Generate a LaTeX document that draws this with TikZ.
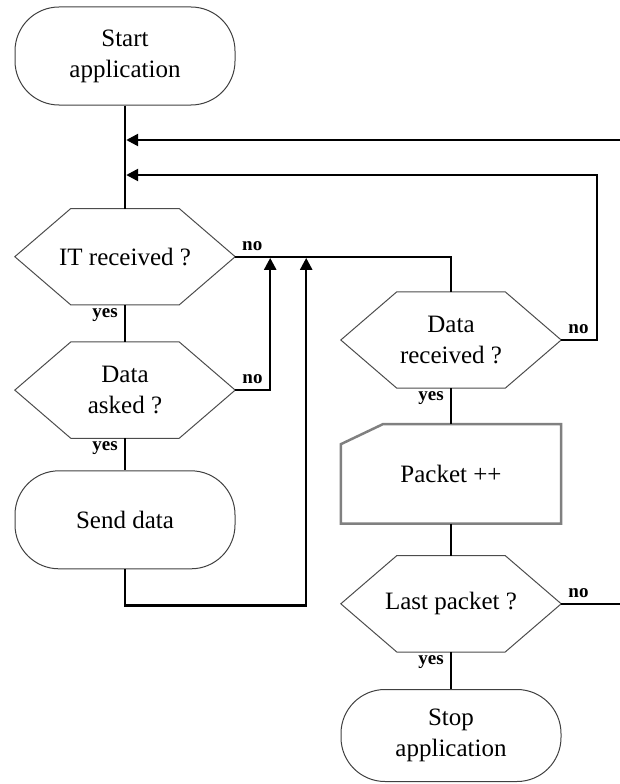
\documentclass[tikz,border=0pt]{standalone}
\usepackage{fontspec}
\setmainfont{Liberation Serif}
\usetikzlibrary{positioning,arrows.meta}

\begin{document}
\begin{tikzpicture}[x=1pt, y=-1pt, node distance=37pt,
        every node/.style={font=\fontsize{25}{31}\selectfont},
        term/.style={rectangle, draw=black!75, line width=1pt, rounded corners=44pt, minimum width=220pt, minimum height=98pt, align=center},
        hexa/.style={rectangle, minimum width=220pt, minimum height=96pt, align=center},
        card/.style={rectangle, minimum width=220pt, minimum height=99pt, align=center},
        flow/.style={draw, line width=2.5pt},
        arrow/.style={flow, -{Triangle[length=12pt,width=12pt]}, shorten >=1.2pt},
        yeslbl/.style={font=\fontsize{19}{20}\selectfont\bfseries, inner sep=2pt, below left, xshift=-4pt},
        nolbl/.style={font=\fontsize{19}{20}\selectfont\bfseries, inner sep=2pt, above right, xshift=4pt, yshift=3pt}]
        \useasboundingbox (0,0) rectangle (620,784);

        \node[term] (start) at (125,56) {Start\\application};
        \node[hexa, below=103pt of start] (itrecv) {IT received ?};
        \node[hexa, below=of itrecv] (askd) {Data\\asked ?};
        \node[term, below=32pt of askd] (send) {Send data};
        \node[hexa] (datarecv) at (451,340) {Data\\received ?};
        \node[card, below=36pt of datarecv] (packet) {Packet ++};
        \node[hexa, below=32pt of packet] (lastpk) {Last packet ?};
        \node[term, below=of lastpk, minimum height=92pt] (stop) {Stop\\application};

        % hexagon and card outlines
        \foreach \n in {itrecv,askd,datarecv,lastpk}
            \draw[black!70, line width=1pt] (\n.west) -- ([xshift=56pt]\n.north west) -- ([xshift=-56pt]\n.north east)
                -- (\n.east) -- ([xshift=-56pt]\n.south east) -- ([xshift=56pt]\n.south west) -- cycle;
        \draw[gray, line width=2.5pt] (packet.south west) -- ([yshift=-20pt]packet.north west) -- ([xshift=42pt]packet.north west)
            -- (packet.north east) -- (packet.south east) -- cycle;

        \coordinate (rimtop) at (620,140);
        \coordinate (loopr) at (597,175);
        \coordinate (join1) at ([xshift=35pt]itrecv.east);
        \coordinate (join2) at ([xshift=71pt]itrecv.east);

        \draw[flow] (start) -- (itrecv);
        \draw[flow] (itrecv.south) node[yeslbl] {yes} -- (askd.north);
        \draw[flow] (askd.south) node[yeslbl] {yes} -- (send.north);
        \draw[flow] (datarecv.south) node[yeslbl] {yes} -- (packet.north);
        \draw[flow] (packet) -- (lastpk);
        \draw[flow] (lastpk.south) node[yeslbl] {yes} -- (stop.north);

        \draw[flow, line width=2pt] (itrecv.east) node[nolbl] {no} -| (datarecv.north);
        \draw[arrow] (askd.east) node[nolbl] {no} -| (join1);
        \draw[arrow] (send.south) -- ++(0,36) -| (join2);
        \draw[arrow] (datarecv.east) node[nolbl] {no} -| (loopr) -- (loopr -| start.south);
        \draw[arrow] (rimtop) -- (rimtop -| start.south);
        \draw[flow] (lastpk.east) node[nolbl] {no} -- (lastpk.east -| rimtop);
    \end{tikzpicture}
\end{document}
